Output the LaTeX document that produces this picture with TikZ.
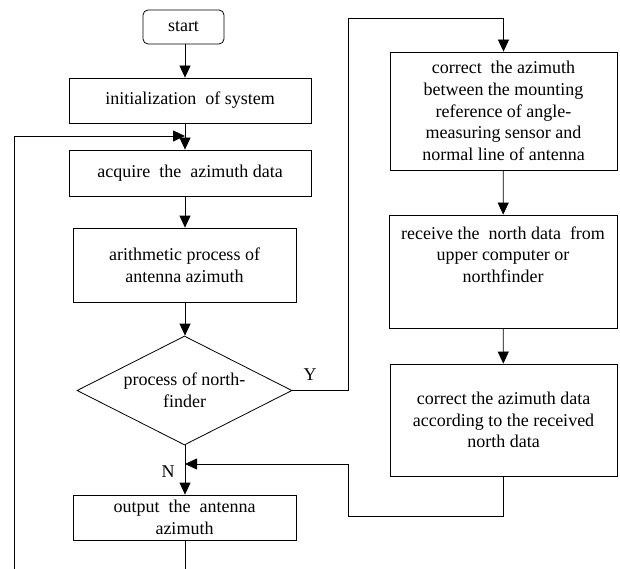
\documentclass[tikz,border=0pt]{standalone}
\usepackage{fontspec}
\setmainfont{Liberation Serif}
\usepackage{tikz}
\usetikzlibrary{arrows.meta}
\usetikzlibrary{shapes.geometric,positioning}

\begin{document}
\begin{tikzpicture}[x=1pt,y=-1pt,line width=0.8pt,font=\fontsize{18}{21.7}\selectfont]
  \tikzset{box/.style = {shape=rectangle,draw,inner sep=0pt,align=center}}
  \tikzset{startbox/.style = {shape=rectangle,draw,rounded corners=5pt,inner sep=0pt,minimum width=81pt,minimum height=34pt}}
  \tikzset{decision/.style = {shape=diamond,draw,inner sep=0pt,shape aspect=2,align=center,minimum width=215pt,minimum height=109pt}}
  \tikzset{%
  tipA/.tip={Triangle[length=12pt,width=11pt]},
}
  \tikzset{edge/.style = {-tipA}}

  \useasboundingbox (0,0) rectangle (620,569);

	\node[startbox] (start) at (183.5,27) {start};
	\node[box,minimum width=242pt,minimum height=45pt] (init) at (190,100.5) {initialization\ \ of system};
	\node[box,minimum width=242pt,minimum height=46pt] (acq) at (190,173) {acquire\ \ the\ \ azimuth data};
	\node[box,minimum width=223pt,minimum height=74pt] (arith) at (184.5,265) {arithmetic process of\\antenna azimuth};
	\node[decision] (dec) at (184.5,390.5) {process of north-\\finder};
	\node[box,minimum width=223pt,minimum height=45pt] (out) at (184.5,517.5) {output\ \ the\ \ antenna\\azimuth};

	\node[box,minimum width=227pt,minimum height=118pt] (corr) at (503.5,111) {correct\ \ the azimuth\\between the mounting\\reference of angle-\\measuring sensor and\\normal line of antenna};
	\node[box,minimum width=228pt,minimum height=113pt] (recv) at (503,271.5) {receive the\ \ north data\ \ from\\upper computer or\\northfinder\\[12pt]};
	\node[box,minimum width=227pt,minimum height=112pt] (fix) at (503.5,420) {correct the azimuth data\\according to the received\\north data};

	\node (Y) at (310,375) {Y};
	\node (N) at (168,472) {N};

	\coordinate (axis) at (185,0);
	\coordinate (join1) at (185,136);
	\coordinate (join2) at (185,464);
	\coordinate (loopbot) at (14,569);
	\coordinate (outbot) at (185,569);
	\coordinate (yturn) at (348,18);
	\coordinate (back) at (348,516);

    \foreach \from/\to in {start/init, init/acq, acq/arith, arith/dec, dec/out}
    \draw[edge] (\from.south -| axis) -- (\to.north -| axis);

    \foreach \from/\to in {corr/recv, recv/fix}
    \draw[edge] (\from) -- (\to);

    \draw[edge] (loopbot) |- (join1);
    \draw (out.south -| axis) -- (outbot);
    \draw[edge] (dec.east) -| (yturn) -| (corr.north);
    \draw[edge] (fix.south) |- (back) |- (join2);

\end{tikzpicture}
\end{document}
